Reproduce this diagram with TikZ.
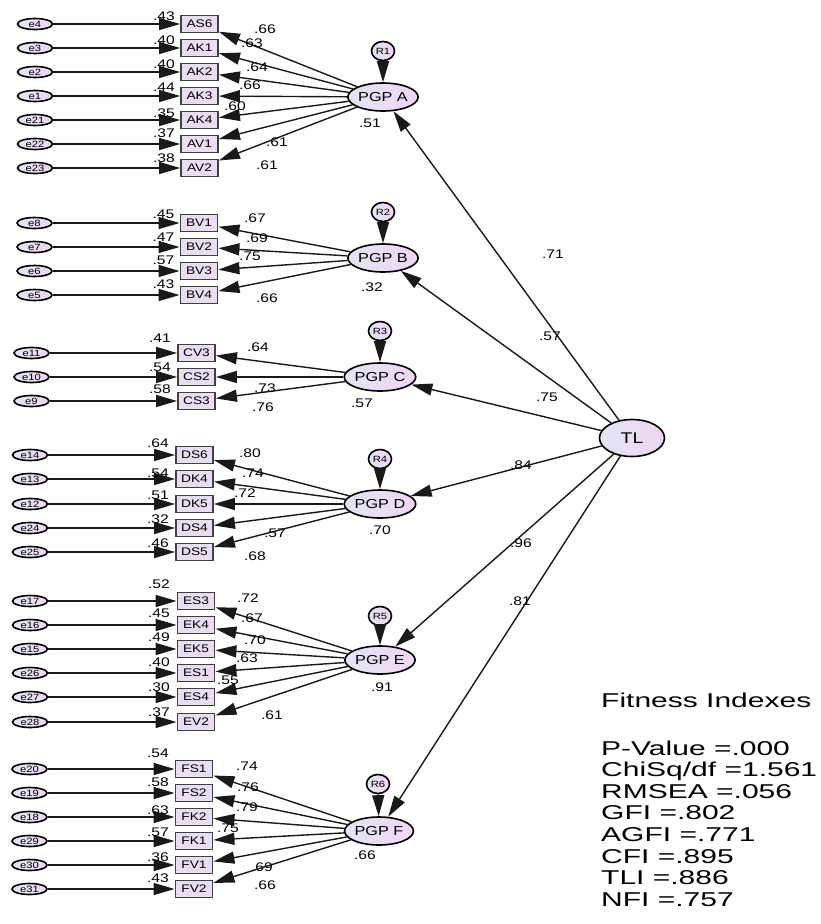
\documentclass[tikz,border=0pt]{standalone}
\usepackage{fontspec}
\setmainfont{Liberation Sans}
\usepackage{graphicx}
\usetikzlibrary{arrows.meta,shapes.geometric}
\definecolor{lavL}{HTML}{E3E4F3}
\definecolor{lavR}{HTML}{EFD6F4}
\definecolor{boxfill}{HTML}{E8DDF1}
\newcommand{\wtxt}[1]{\scalebox{1.25}[1]{#1}}
\newcommand{\ftxt}[1]{\scalebox{1.5}[1]{#1}}
\begin{document}
\begin{tikzpicture}[x=1pt,y=-1pt,
  arr/.style={line width=1.4pt, draw=black!90, -{Triangle[length=21pt,width=12pt]}},
  lat/.style={ellipse, draw=black, line width=1.6pt, left color=lavL, right color=lavR, inner sep=0pt, minimum width=57pt, minimum height=28pt, font=\fontsize{13}{13}\selectfont},
  tlnode/.style={ellipse, draw=black, line width=1.6pt, left color=lavL, right color=lavR, inner sep=0pt, minimum width=65pt, minimum height=37pt, font=\fontsize{15.5}{15.5}\selectfont},
  resid/.style={ellipse, draw=black, line width=1.6pt, left color=lavL, right color=lavR, inner sep=0pt, minimum width=23pt, minimum height=19pt, font=\fontsize{9}{9}\selectfont},
  err/.style={ellipse, draw=black, line width=1.6pt, left color=lavL, right color=lavR, inner sep=0pt, minimum width=35pt, minimum height=11pt, font=\fontsize{9}{9}\selectfont},
  obs/.style={rectangle, draw=black!75, line width=1.9pt, fill=boxfill, inner sep=0pt, minimum width=37pt, minimum height=17pt, font=\fontsize{11}{11}\selectfont},
  num/.style={inner sep=0pt, font=\fontsize{12.5}{12.5}\selectfont},
  fit/.style={inner sep=0pt, anchor=base west, font=\fontsize{20}{20}\selectfont}
]
\useasboundingbox (0,0) rectangle (820,924);

% latent variables
\node[lat] (pA) at (383,97) {\wtxt{PGP A}};
\node[lat] (pB) at (383,258) {\wtxt{PGP B}};
\node[lat] (pC) at (380,377) {\wtxt{PGP C}};
\node[lat] (pD) at (380,504) {\wtxt{PGP D}};
\node[lat] (pE) at (380,660) {\wtxt{PGP E}};
\node[lat] (pF) at (379,831) {\wtxt{PGP F}};
\node[tlnode] (TL) at (632,438) {\wtxt{TL}};

% residuals
\node[resid] (R1) at (383,51) {\wtxt{R1}};
\node[resid] (R2) at (383,212) {\wtxt{R2}};
\node[resid] (R3) at (380,331) {\wtxt{R3}};
\node[resid] (R4) at (380,459) {\wtxt{R4}};
\node[resid] (R5) at (380,616) {\wtxt{R5}};
\node[resid] (R6) at (378,784) {\wtxt{R6}};
\foreach \r/\p in {R1/pA,R2/pB,R3/pC,R4/pD,R5/pE,R6/pF}{\draw[arr] (\r) -- (\p);}

% R-squared of latents
\node[num] (rA) at (370,123) {\wtxt{.51}};
\node[num] (rB) at (372,287) {\wtxt{.32}};
\node[num] (rC) at (362,403) {\wtxt{.57}};
\node[num] (rD) at (380,530) {\wtxt{.70}};
\node[num] (rE) at (382,687) {\wtxt{.91}};
\node[num] (rF) at (365,855) {\wtxt{.66}};

% TL paths
\foreach \p in {pA,pB,pC,pD,pE,pF}{\draw[arr] (TL) -- (\p);}
\node[num] (tA) at (553,254) {\wtxt{.71}};
\node[num] (tB) at (550,336) {\wtxt{.57}};
\node[num] (tC) at (547,397) {\wtxt{.75}};
\node[num] (tD) at (521,465) {\wtxt{.84}};
\node[num] (tE) at (521,543) {\wtxt{.96}};
\node[num] (tF) at (520,601) {\wtxt{.81}};

% group A
\foreach \e/\b/\y/\sq/\sqy/\ld/\lx/\ly in {
  e4/AS6/24/.43/16/.66/265/29, e3/AK1/48/.40/40/.63/252/43,
  e2/AK2/72/.40/64/.64/257/67, e1/AK3/96/.44/87/.66/250/85,
  e21/AK4/120/.35/113/.60/235/106, e22/AV1/144/.37/133/.61/277/142,
  e23/AV2/168/.38/158/.61/267/165}{
  \node[err] (\e) at (35,\y) {\wtxt{\e}};
  \node[obs] (\b) at (199.5,\y) {\wtxt{\b}};
  \draw[arr] (\e) -- (\b);
  \draw[arr] (pA) -- (\b);
  \node[num] (q\b) at (164,\sqy) {\wtxt{\sq}};
  \node[num] (l\b) at (\lx,\ly) {\wtxt{\ld}};
}
% group B
\foreach \e/\b/\y/\sq/\sqy/\ld/\lx/\ly in {
  e8/BV1/223/.45/214/.67/255/218, e7/BV2/247/.47/237/.69/257/238,
  e6/BV3/271/.57/260/.75/250/256, e5/BV4/295/.43/284/.66/267/298}{
  \node[err] (\e) at (34.5,\y) {\wtxt{\e}};
  \node[obs] (\b) at (199,\y) {\wtxt{\b}};
  \draw[arr] (\e) -- (\b);
  \draw[arr] (pB) -- (\b);
  \node[num] (q\b) at (163.5,\sqy) {\wtxt{\sq}};
  \node[num] (l\b) at (\lx,\ly) {\wtxt{\ld}};
}
% group C
\foreach \e/\b/\y/\sq/\sqy/\ld/\lx/\ly in {
  e11/CV3/353/.41/338/.64/258/347, e10/CS2/377/.54/367/.73/265/388,
  e9/CS3/401/.58/389/.76/263/407}{
  \node[err] (\e) at (31.5,\y) {\wtxt{\e}};
  \node[obs] (\b) at (196.5,\y) {\wtxt{\b}};
  \draw[arr] (\e) -- (\b);
  \draw[arr] (pC) -- (\b);
  \node[num] (q\b) at (160,\sqy) {\wtxt{\sq}};
  \node[num] (l\b) at (\lx,\ly) {\wtxt{\ld}};
}
% group D
\foreach \e/\b/\y/\sq/\sqy/\ld/\lx/\ly in {
  e14/DS6/455/.64/443/.80/250/453, e13/DK4/479/.54/473/.74/253/473,
  e12/DK5/504/.51/495/.72/245/493, e24/DS4/528/.32/519/.57/275/533,
  e25/DS5/552/.46/543/.68/255/556}{
  \node[err] (\e) at (30,\y) {\wtxt{\e}};
  \node[obs] (\b) at (194.5,\y) {\wtxt{\b}};
  \draw[arr] (\e) -- (\b);
  \draw[arr] (pD) -- (\b);
  \node[num] (q\b) at (158,\sqy) {\wtxt{\sq}};
  \node[num] (l\b) at (\lx,\ly) {\wtxt{\ld}};
}
% group E
\foreach \e/\b/\y/\sq/\sqy/\ld/\lx/\ly in {
  e17/ES3/601/.52/584/.72/248/598, e16/EK4/625/.45/613/.67/252/618,
  e15/EK5/649/.49/637/.70/255/640, e26/ES1/673/.40/662/.63/247/658,
  e27/ES4/697/.30/687/.55/228/680, e28/EV2/722/.37/712/.61/272/715}{
  \node[err] (\e) at (30,\y) {\wtxt{\e}};
  \node[obs] (\b) at (196,\y) {\wtxt{\b}};
  \draw[arr] (\e) -- (\b);
  \draw[arr] (pE) -- (\b);
  \node[num] (q\b) at (159,\sqy) {\wtxt{\sq}};
  \node[num] (l\b) at (\lx,\ly) {\wtxt{\ld}};
}
% group F
\foreach \e/\b/\y/\sq/\sqy/\ld/\lx/\ly in {
  e20/FS1/769/.54/753/.74/247/766, e19/FS2/793/.58/782/.76/248/787,
  e18/FK2/817/.63/810/.79/247/807, e29/FK1/841/.57/832/.75/228/828,
  e30/FV1/865/.36/857/.69/262/867, e31/FV2/889/.43/878/.66/265/885}{
  \node[err] (\e) at (29.5,\y) {\wtxt{\e}};
  \node[obs] (\b) at (194,\y) {\wtxt{\b}};
  \draw[arr] (\e) -- (\b);
  \draw[arr] (pF) -- (\b);
  \node[num] (q\b) at (158,\sqy) {\wtxt{\sq}};
  \node[num] (l\b) at (\lx,\ly) {\wtxt{\ld}};
}

% fitness indexes
\node[fit] (f0) at (601,707) {\ftxt{Fitness Indexes}};
\node[fit] (f1) at (601,755) {\ftxt{P-Value =.000}};
\node[fit] (f2) at (601,776.6) {\ftxt{ChiSq/df =1.561}};
\node[fit] (f3) at (601,798.2) {\ftxt{RMSEA =.056}};
\node[fit] (f4) at (601,819.8) {\ftxt{GFI =.802}};
\node[fit] (f5) at (601,841.4) {\ftxt{AGFI =.771}};
\node[fit] (f6) at (601,863) {\ftxt{CFI =.895}};
\node[fit] (f7) at (601,884.6) {\ftxt{TLI =.886}};
\node[fit] (f8) at (601,906.2) {\ftxt{NFI =.757}};
\end{tikzpicture}
\end{document}
